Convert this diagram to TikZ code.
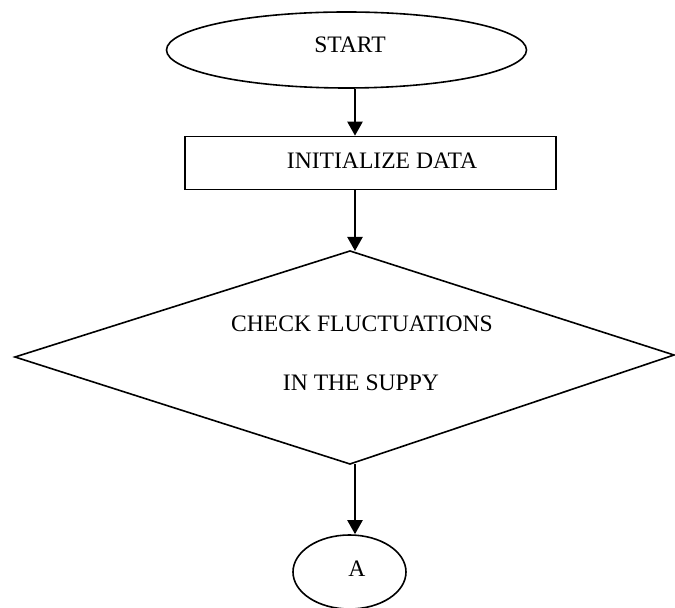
\documentclass[tikz,border=0pt]{standalone}
\usepackage{fontspec}
\setmainfont{Liberation Serif}
\usetikzlibrary{shapes.geometric,arrows.meta}
\begin{document}
\begin{tikzpicture}[x=0.5pt,y=-0.5pt,
  outline/.style={draw=black,line width=0.8pt},
  term/.style={outline,ellipse,inner sep=0pt},
  label/.style={anchor=base,inner sep=0pt,font=\fontsize{11.8}{14}\selectfont},
  flow/.style={line width=1.1pt,-{Triangle[width=7.5pt,length=7pt]}}]
  \useasboundingbox (0,0) rectangle (675,608);

  % start terminal
  \node[term,minimum width=180pt,minimum height=38pt] (start) at (346.5,50) {};
  \node[label] (starttxt) at (350,53) {START};

  % initialisation box
  \node[outline,rectangle,minimum width=185.5pt,minimum height=26.5pt,inner sep=0pt] (init) at (370.5,163) {};
  \node[label] (inittxt) at (382,169) {INITIALIZE DATA};

  % decision
  \coordinate (dt) at (350,251);
  \coordinate (dr) at (674,355);
  \coordinate (db) at (350,464);
  \coordinate (dl) at (15,357);
  \draw[outline,line join=miter] (dt) -- (dr) -- (db) -- (dl) -- cycle;
  \node[label] (dec1) at (362,332) {CHECK FLUCTUATIONS};
  \node[label] (dec2) at (361,391) {IN THE SUPPY};

  % off-page connector
  \node[term,minimum width=56.5pt,minimum height=37pt] (conn) at (349.5,572) {};
  \node[label] (conntxt) at (357,577) {A};

  % connectors
  \coordinate (ax) at (355,0);
  \draw[flow] (start.south -| ax) -- (init.north -| ax);
  \draw[flow] (init.south -| ax) -- (dt -| ax);
  \draw[flow] (db -| ax) -- (conn.north -| ax);
\end{tikzpicture}
\end{document}
